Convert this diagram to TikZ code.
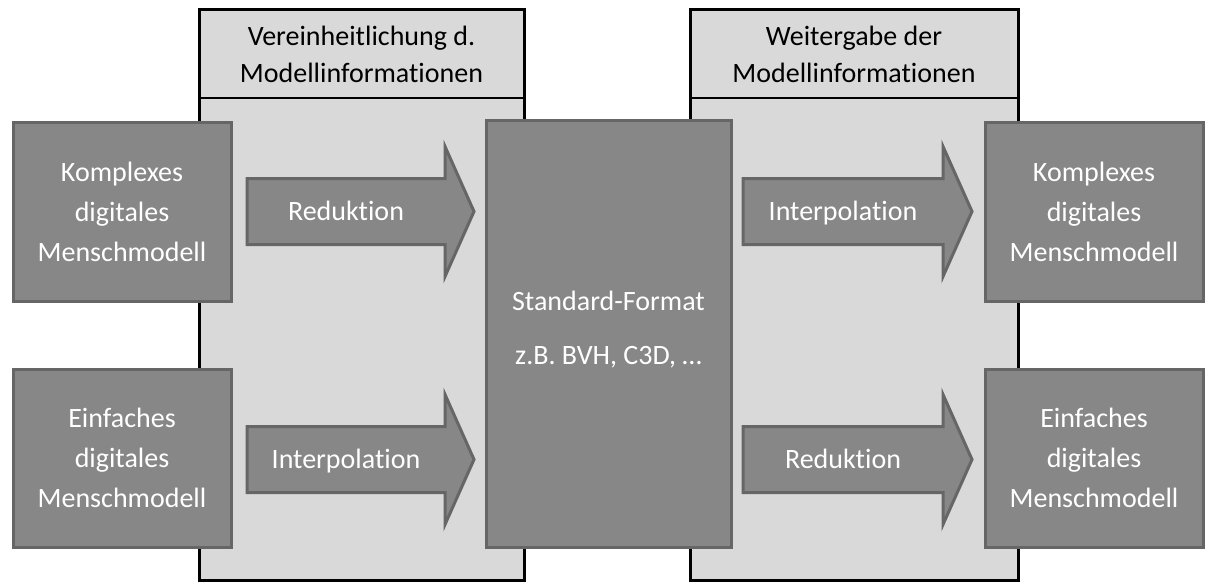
\documentclass[tikz,border=0pt]{standalone}
\usepackage{fontspec}
\setmainfont{Carlito}[Ligatures=NoCommon]
\usetikzlibrary{positioning}

\definecolor{boxgray}{HTML}{878787}
\definecolor{boxline}{HTML}{666666}
\definecolor{panelgray}{HTML}{D9D9D9}

\tikzset{
    panel/.style={draw=black, fill=panelgray, line width=3pt},
    modelbox/.style={draw=boxline, fill=boxgray, line width=3pt, text=white, align=center,
        inner sep=0pt, minimum width=218pt, minimum height=178pt,
        font=\fontsize{28}{40}\selectfont},
    blockarrow/.style={draw=boxline, fill=boxgray, line width=3pt, line join=miter},
    arrowtext/.style={text=white, inner sep=0pt, text height=21pt, text depth=4pt,
        font=\fontsize{28}{34}\selectfont},
    headtext/.style={text=black, align=center, inner sep=0pt, font=\fontsize{28}{37}\selectfont}
}

\begin{document}
\begin{tikzpicture}[x=1pt, y=-1pt]
    \useasboundingbox (0,0) rectangle (1210,583);

    % Grey panels with header
    \draw[panel] (199,10) rectangle (524,580);
    \draw[black, line width=2pt] (199,98) -- (524,98);
    \draw[panel] (690,10) rectangle (1018,580);
    \draw[black, line width=2pt] (690,98) -- (1018,98);
    \node[headtext] (headL) at (361.5,54) {Vereinheitlichung d.\\Modellinformationen};
    \node[headtext] (headR) at (854,54) {Weitergabe der\\Modellinformationen};

    % Model boxes
    \node[modelbox] (komplexL) at (122,212) {Komplexes\\digitales\\Menschmodell};
    \node[modelbox] (einfachL) at (122,458) {Einfaches\\digitales\\Menschmodell};
    \node[modelbox, minimum width=245pt, minimum height=426pt] (standard) at (608.5,334) {};
    \node[text=white, align=center, font=\fontsize{28}{40}\selectfont] (standardtext) at (standard.center)
        [yshift=4pt] {Standard-Format\\[14pt]z.B. BVH, C3D, \dots};
    \node[modelbox] (komplexR) at (1094,212) {Komplexes\\digitales\\Menschmodell};
    \node[modelbox] (einfachR) at (1094,458) {Einfaches\\digitales\\Menschmodell};

    % Block arrows
    \foreach \xa/\xb/\yc/\lbl/\nm in {247/474/211.5/Reduktion/pfeilL1, 247/474/459.5/Interpolation/pfeilL2,
                                     743/972/211.5/Interpolation/pfeilR1, 743/972/459.5/Reduktion/pfeilR2} {
        \draw[blockarrow] (\xa,\yc-33) -- (\xb-29,\yc-33) -- (\xb-29,\yc-65) -- (\xb,\yc)
            -- (\xb-29,\yc+65) -- (\xb-29,\yc+33) -- (\xa,\yc+33) -- cycle;
        \node[arrowtext] (\nm) at ({(\xa+\xb-29)/2},\yc) {\lbl};
    }
\end{tikzpicture}
\end{document}
